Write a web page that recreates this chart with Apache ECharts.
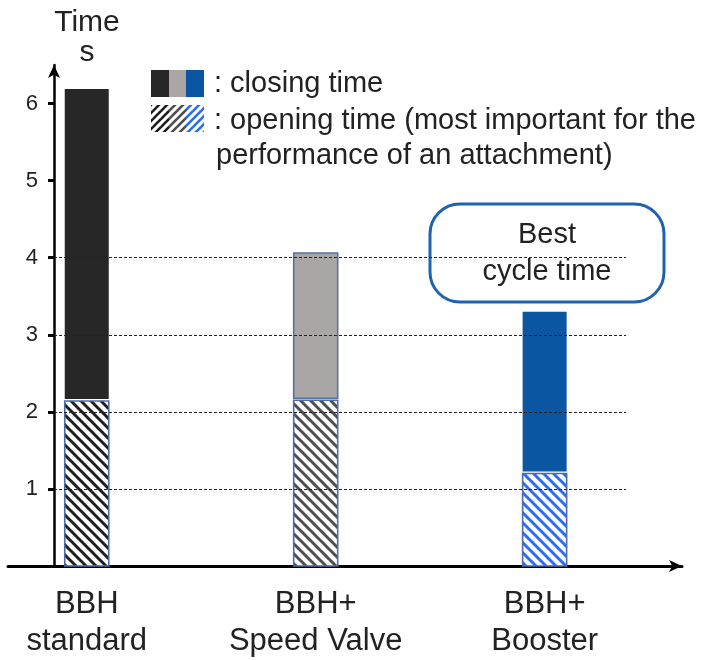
<!DOCTYPE html>
<html>
<head>
<meta charset="utf-8">
<script src="https://cdn.jsdelivr.net/npm/echarts@6/dist/echarts.min.js"></script>
<style>
  html, body { margin: 0; padding: 0; background: #fff; }
  #chart { width: 721px; height: 660px; }
</style>
</head>
<body>
<div id="chart"></div>
<script>
// Cycle time per gripper variant, in seconds
const categories = ['BBH\nstandard', 'BBH+\nSpeed Valve', 'BBH+\nBooster'];
const openingTime = [2.14, 2.15, 1.2];
const closingTime = [4.05, 1.91, 2.1];
const yTickValues = [1, 2, 3, 4, 5, 6];
const gridLineValues = [1, 2, 3, 4];
const categoryPositions = [0, 1, 2];

// Styling
const FONT = '"Liberation Sans", Arial, Helvetica, sans-serif';
const TEXT = '#222';
const closingColors = ['#272727', '#aaa6a5', '#0b56a3'];
const closingBorders = [null, '#5472a6', null];
const hatchColors = ['#1e1e1e', '#4e4e4e', '#2a6cf2'];
const openingBorder = '#4b6ca8';

// Layout of the value-type x axis (category i sits at x = i)
const X_MIN = -0.344, X_MAX = 2.6;
const Y_AXIS_X = -0.143;      // where the vertical axis crosses the x axis
const GRID_END_X = 2.356;     // right end of the dotted guide lines
const Y_AXIS_OFFSET = -46;
const BAR_WIDTH = 44;
const SEGMENT_GAP = 2;

function hatch(color, dir, lineWidth, period) {
  const c = document.createElement('canvas');
  c.width = c.height = period;
  const g = c.getContext('2d');
  g.fillStyle = '#fff';
  g.fillRect(0, 0, period, period);
  g.strokeStyle = color;
  g.lineWidth = lineWidth;
  for (const off of [-period, 0, period]) {
    g.beginPath();
    if (dir === 'down') {
      g.moveTo(off - 1, -1);
      g.lineTo(off + period + 1, period + 1);
    } else {
      g.moveTo(off - 1, period + 1);
      g.lineTo(off + period + 1, -1);
    }
    g.stroke();
  }
  return { image: c, repeat: 'repeat' };
}

const barHatches = hatchColors.map(c => hatch(c, 'down', 3, 10));
const legendHatches = hatchColors.map(c => hatch(c, 'up', 2.6, 8));

const chart = echarts.init(document.getElementById('chart'), null, { renderer: 'canvas' });

const legendX = [151, 169, 186, 204];
const legendGraphics = [];
for (let i = 0; i < 3; i++) {
  legendGraphics.push({
    type: 'rect', z: 100,
    shape: { x: legendX[i], y: 70, width: legendX[i + 1] - legendX[i], height: 27 },
    style: { fill: closingColors[i] }
  });
  legendGraphics.push({
    type: 'rect', z: 100,
    shape: { x: legendX[i], y: 105, width: legendX[i + 1] - legendX[i], height: 27 },
    style: { fill: legendHatches[i] }
  });
}
legendGraphics.push(
  { type: 'text', z: 100, x: 214, y: 84,
    style: { text: ': closing time', font: '29px ' + FONT, fill: TEXT, verticalAlign: 'middle' } },
  { type: 'text', z: 100, x: 214, y: 121,
    style: { text: ': opening time (most important for the', font: '29px ' + FONT, fill: TEXT, verticalAlign: 'middle' } },
  { type: 'text', z: 100, x: 216, y: 156,
    style: { text: 'performance of an attachment)', font: '29px ' + FONT, fill: TEXT, verticalAlign: 'middle' } }
);

const calloutGraphic = {
  type: 'group', x: 430, y: 204, z: 100,
  children: [
    { type: 'rect', shape: { x: 0, y: 0, width: 234, height: 98, r: 30 },
      style: { fill: '#fff', stroke: '#1f62b0', lineWidth: 3 } },
    { type: 'text', x: 117, y: 49,
      style: { text: 'Best\ncycle time', font: '29px ' + FONT, fill: TEXT,
               align: 'center', verticalAlign: 'middle', lineHeight: 37 } }
  ]
};

const option = {
  animation: false,
  backgroundColor: '#fff',
  grid: { left: 8, right: 39, top: 65, bottom: 94, containLabel: false, outerBoundsMode: 'none' },
  xAxis: {
    type: 'value', min: X_MIN, max: X_MAX,
    axisLine: { show: true, onZero: false, symbol: ['none', 'arrow'], symbolSize: [9, 13],
                lineStyle: { color: '#000', width: 3 } },
    axisTick: { show: false },
    splitLine: { show: false },
    axisLabel: {
      customValues: categoryPositions,
      formatter: v => categories[Math.round(v)],
      fontFamily: FONT, fontSize: 31, lineHeight: 37, color: TEXT, margin: 20
    }
  },
  yAxis: [
    {
      type: 'value', min: 0, max: 6.5, position: 'left', offset: Y_AXIS_OFFSET,
      name: 'Time\ns', nameLocation: 'end', nameGap: -3,
      nameTextStyle: { fontFamily: FONT, fontSize: 30, lineHeight: 30, color: TEXT,
                       padding: [0, 0, 0, 66] },
      axisLine: { show: true, onZero: false, symbol: ['none', 'arrow'], symbolSize: [9, 13],
                  lineStyle: { color: '#000', width: 2.5 } },
      axisTick: { show: true, customValues: yTickValues, length: 6,
                  lineStyle: { color: '#000', width: 3 } },
      axisLabel: { customValues: yTickValues, fontFamily: FONT, fontSize: 22,
                   color: TEXT, margin: 16 },
      splitLine: { show: false }
    },
    {
      type: 'value', min: 0, max: 6.5, position: 'left', offset: Y_AXIS_OFFSET,
      axisLine: { show: false },
      axisTick: { show: true, inside: true, customValues: yTickValues, length: 7,
                  lineStyle: { color: '#000', width: 3 } },
      axisLabel: { show: false },
      splitLine: { show: false }
    }
  ],
  series: [
    {
      type: 'custom',
      coordinateSystem: 'cartesian2d',
      data: categoryPositions.map((x, i) => [x, openingTime[i], closingTime[i]]),
      encode: { x: 0, y: 1 },
      z: 2,
      renderItem: (params, api) => {
        const i = params.dataIndex;
        const x = api.value(0);
        const open = api.value(1);
        const close = api.value(2);
        const base = api.coord([x, 0]);
        const mid = api.coord([x, open]);
        const top = api.coord([x, open + close]);
        const left = base[0] - BAR_WIDTH / 2;
        const closeStyle = { fill: closingColors[i] };
        if (closingBorders[i]) {
          closeStyle.stroke = closingBorders[i];
          closeStyle.lineWidth = 1.6;
        }
        return {
          type: 'group',
          children: [
            { type: 'rect',
              shape: { x: left, y: mid[1], width: BAR_WIDTH, height: base[1] - mid[1] },
              style: { fill: barHatches[i], stroke: openingBorder, lineWidth: 1.6 } },
            { type: 'rect',
              shape: { x: left, y: top[1], width: BAR_WIDTH, height: mid[1] - SEGMENT_GAP - top[1] },
              style: closeStyle }
          ]
        };
      }
    },
    {
      type: 'line',
      data: [],
      z: 10,
      markLine: {
        silent: true,
        symbol: ['none', 'none'],
        label: { show: false },
        lineStyle: { type: [3, 2], color: '#222', width: 1 },
        data: gridLineValues.map(v => [{ coord: [Y_AXIS_X, v] }, { coord: [GRID_END_X, v] }])
      }
    }
  ],
  graphic: legendGraphics.concat([calloutGraphic])
};

chart.setOption(option);
</script>
</body>
</html>
